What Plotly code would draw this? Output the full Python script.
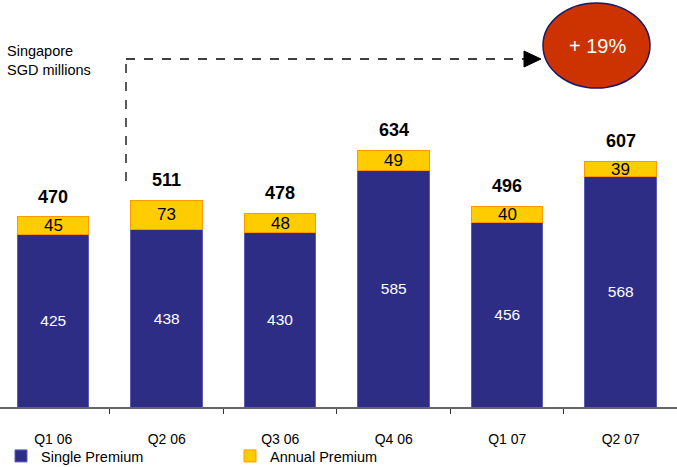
import plotly.graph_objects as go

quarters = ["Q1 06", "Q2 06", "Q3 06", "Q4 06", "Q1 07", "Q2 07"]
single_premium = [425, 438, 430, 585, 456, 568]
annual_premium = [45, 73, 48, 49, 40, 39]
totals = [470, 511, 478, 634, 496, 607]
growth_label = "+ 19%"

W, H = 677, 467
M_L, M_R, M_T, M_B = 0, 0, 30, 60
PLOT_H = H - M_T - M_B
AXIS_Y = H - M_B


def px(x):
    return (x - M_L) / (W - M_L - M_R)


def py(y):
    return (AXIS_Y - y) / PLOT_H


FONT = "Liberation Sans, Arial, sans-serif"

fig = go.Figure()
fig.add_trace(go.Bar(
    name="Single Premium", x=quarters, y=single_premium,
    marker=dict(color="#2d2d86", line=dict(color="#5c5cb8", width=1)),
    text=[str(v) for v in single_premium], textposition="inside",
    insidetextanchor="middle",
    textfont=dict(color="white", size=15.5, family=FONT),
))
fig.add_trace(go.Bar(
    name="Annual Premium", x=quarters, y=annual_premium,
    marker=dict(color="#ffcc00", line=dict(color="#ff9900", width=1)),
    textposition="none",
))

# Annual premium values centred in the yellow segment
for q, s, a in zip(quarters, single_premium, annual_premium):
    fig.add_annotation(x=q, y=s + a / 2, text=str(a), showarrow=False,
                       font=dict(size=17, color="black", family=FONT))

# Bold totals above each stack
for q, t in zip(quarters, totals):
    fig.add_annotation(x=q, y=t, text=f"<b>{t}</b>", showarrow=False,
                       yshift=20, font=dict(size=18, color="black", family=FONT))

# Unit caption
fig.add_annotation(xref="paper", yref="paper", x=px(5), y=py(60),
                   xanchor="left", yanchor="middle", align="left",
                   text="Singapore<br>SGD millions", showarrow=False,
                   font=dict(size=14.5, color="black", family=FONT))

dash = dict(color="black", width=1.3, dash="dash")
shapes = [
    dict(type="line", xref="paper", yref="paper",
         x0=px(126), y0=py(181), x1=px(126), y1=py(59), line=dash),
    dict(type="line", xref="paper", yref="paper",
         x0=px(126), y0=py(59), x1=px(526), y1=py(59), line=dash),
    dict(type="path", xref="paper", yref="paper",
         path=f"M {px(524)},{py(51)} L {px(541)},{py(59)} L {px(524)},{py(67)} Z",
         fillcolor="black", line=dict(color="black", width=1)),
    dict(type="circle", xref="paper", yref="paper", layer="below",
         x0=px(543), y0=py(3), x1=px(650), y1=py(88),
         fillcolor="#cc3300", line=dict(color="#1a1a66", width=1.5)),
]
fig.add_annotation(xref="paper", yref="paper", x=px(597), y=py(46),
                   xanchor="center", yanchor="middle",
                   text=growth_label, showarrow=False,
                   font=dict(size=20, color="white", family=FONT))

fig.update_layout(
    width=W, height=H,
    margin=dict(l=M_L, r=M_R, t=M_T, b=M_B, autoexpand=False),
    barmode="stack", bargap=0.37,
    plot_bgcolor="rgba(0,0,0,0)", paper_bgcolor="white",
    shapes=shapes,
    showlegend=True,
    legend=dict(orientation="h", x=px(1), y=py(456), xanchor="left",
                yanchor="middle", entrywidth=184, entrywidthmode="pixels",
                bgcolor="rgba(0,0,0,0)",
                font=dict(size=14.5, color="black", family=FONT),
                traceorder="normal", itemwidth=30),
    xaxis=dict(range=[-0.469, 5.496], tickson="boundaries", ticks="outside",
               ticklen=5, tickcolor="#333", showline=True, linecolor="#666",
               linewidth=1.5, showgrid=False, ticklabelstandoff=18,
               tickfont=dict(size=14, color="black", family=FONT)),
    yaxis=dict(range=[0, PLOT_H / 0.405], visible=False, showgrid=False),
)

fig.write_html("out.html")
